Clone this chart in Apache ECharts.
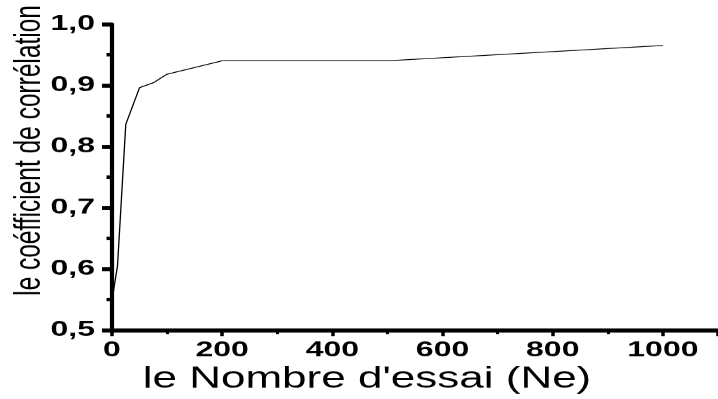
<!DOCTYPE html>
<html><head><meta charset="utf-8">
<script src="https://cdn.jsdelivr.net/npm/echarts@6/dist/echarts.min.js"></script>
<style>
html,body{margin:0;padding:0;overflow:hidden;background:#fff;width:718px;height:399px;}
#wrap{width:718px;height:399px;overflow:hidden;position:relative;}
#chart{width:718px;height:587px;transform:scaleY(0.68);transform-origin:0 0;}
</style></head><body>
<div id="wrap"><div id="chart"></div></div>
<script>
const neValues = [1, 10, 25, 50, 75, 100, 200, 500, 1000];
const correlation = [0.554, 0.605, 0.836, 0.896, 0.904, 0.918, 0.940, 0.940, 0.965];
const xTickLabels = ['0', '200', '400', '600', '800', '1000'];
const yTickLabels = ['0,5', '0,6', '0,7', '0,8', '0,9', '1,0'];
const xTitle = "le Nombre d'essai (Ne)";
const yTitle = "le coéfficient de corrélation";

const S = 0.68; // vertical squash of the picture
const FONT = "'Liberation Sans', Arial, sans-serif";

const chart = echarts.init(document.getElementById('chart'), null, {renderer: 'canvas'});
chart.setOption({
  animation: false,
  backgroundColor: '#fff',
  grid: {left: 112, top: 24 / S, width: 612, height: (330 - 24) / S, containLabel: false},
  xAxis: {
    type: 'value', min: 0, max: 1100, interval: 200,
    name: xTitle, nameLocation: 'middle', nameGap: 50,
    nameTextStyle: {fontFamily: FONT, fontSize: 44, color: '#000', padding: [0, 96, 0, 0]},
    axisLine: {show: true, onZero: false, lineStyle: {color: '#000', width: 4.2 / S}},
    axisTick: {show: true, inside: false, length: 9, lineStyle: {color: '#000', width: 3.5}},
    minorTick: {show: true, splitNumber: 2, length: 6, lineStyle: {color: '#000', width: 3}},
    splitLine: {show: false},
    axisLabel: {
      margin: 14, showMaxLabel: false, fontFamily: FONT, fontSize: 32, fontWeight: 'bold', color: '#000',
      formatter: v => { const i = Math.round(v / 200); return (v % 200 === 0 && xTickLabels[i]) ? xTickLabels[i] : ''; }
    }
  },
  yAxis: {
    type: 'value', min: 0.5, max: 1.0, interval: 0.1,
    axisLine: {show: true, onZero: false, lineStyle: {color: '#000', width: 4.2}},
    axisTick: {show: true, inside: false, length: 10, lineStyle: {color: '#000', width: 4 / S}},
    minorTick: {show: true, splitNumber: 2, length: 5.5, lineStyle: {color: '#000', width: 3.5 / S}},
    splitLine: {show: false},
    axisLabel: {
      margin: 17, fontFamily: FONT, fontSize: 32, fontWeight: 'bold', color: '#000',
      formatter: v => yTickLabels[Math.round((v - 0.5) * 10)] || ''
    }
  },
  graphic: [{
    type: 'text', x: 30, y: 150.5 / S, rotation: Math.PI / 2,
    style: {text: yTitle, fontFamily: FONT, fontSize: 36, fill: '#000', align: 'center', verticalAlign: 'middle'}
  }],
  series: [{
    type: 'line', showSymbol: false, symbol: 'none',
    data: neValues.map((x, i) => [x, correlation[i]]),
    lineStyle: {color: '#000', width: 1.3}
  }]
});
</script>
</body></html>
